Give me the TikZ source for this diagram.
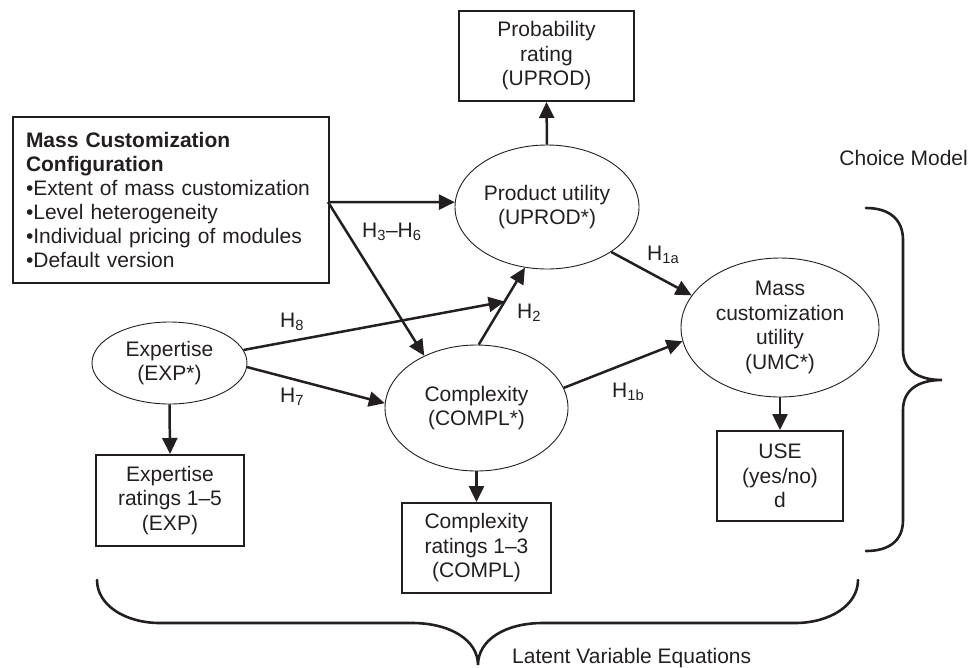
\documentclass[tikz,border=0pt]{standalone}
\usepackage{fontspec}
\setmainfont{Liberation Sans}
\usetikzlibrary{shapes.geometric,arrows.meta,positioning}
\definecolor{ink}{RGB}{35,31,32}
\tikzset{
	latent/.style={draw=ink,ellipse,line width=0.9pt,inner sep=0pt,align=center},
	observed/.style={draw=ink,rectangle,line width=2pt,inner sep=0pt,align=center},
	effect/.style={draw=ink,line width=2.5pt,-{Triangle[length=16pt,width=15pt]}},
	hyp/.style={anchor=base west,inner sep=0pt},
	brace/.style={draw=ink,line width=2.6pt,line cap=round}
}
\begin{document}
\begin{tikzpicture}[x=1pt,y=-1pt,text=ink,font=\fontsize{21}{24.5}\selectfont]
	\useasboundingbox (0,0) rectangle (971,667);
	\node[observed,anchor=north west,minimum width=316,minimum height=166,text width=290,inner xsep=13,align=left,font=\fontsize{21}{24}\selectfont] (mcbox) at (12,116)
		{\textbf{Mass Customization}\\\textbf{Configuration}\\•Extent of mass customization\\•Level heterogeneity\\•Individual pricing of modules\\•Default version};
	\node[observed,minimum width=175,minimum height=90] (prob) at (546.5,56) {Probability\\rating\\(UPROD)};
	\node[latent,minimum width=184,minimum height=124] (uprod) at (547,207) {Product utility\\(UPROD*)};
	\node[latent,minimum width=198,minimum height=139] (umc) at (780,327.5) {Mass\\customization\\utility\\(UMC*)};
	\node[observed,minimum width=126,minimum height=90] (use) at (780,476) {USE\\(yes/no)\\d};
	\node[latent,minimum width=155,minimum height=82] (exp) at (169.5,363) {Expertise\\(EXP*)};
	\node[observed,minimum width=148,minimum height=91] (expr) at (170,500.5) {Expertise\\ratings 1–5\\(EXP)};
	\node[latent,minimum width=183,minimum height=126] (compl) at (476.5,408) {Complexity\\(COMPL*)};
	\node[observed,minimum width=149,minimum height=90] (complr) at (476.5,548) {Complexity\\ratings 1–3\\(COMPL)};
	\coordinate (split) at (328,202);

	\draw[effect] (uprod.north) -- (prob.south);
	\draw[effect] (umc.south) -- (use.north);
	\draw[effect] (exp.south) -- (expr.north);
	\draw[effect] (compl.south) -- (complr.north);
	\draw[effect] (split) -- (uprod.177);
	\draw[effect] (split) -- (compl.135);
	\draw[effect] (compl.88) -- coordinate[pos=0.56] (mod) (uprod.250);
	\draw[effect] (exp.10) -- (mod);
	\draw[effect] (exp.-3) -- (compl.177);
	\draw[effect] (uprod.-35) -- (umc.160);
	\draw[effect] (compl.13) -- (umc.188);

	\node[hyp] (l36) at (362,237) {H\textsubscript{3}–H\textsubscript{6}};
	\node[hyp] (l8) at (280,327) {H\textsubscript{8}};
	\node[hyp] (l7) at (280,402) {H\textsubscript{7}};
	\node[hyp] (l2) at (517,318) {H\textsubscript{2}};
	\node[hyp] (l1a) at (647,260) {H\textsubscript{1a}};
	\node[hyp] (l1b) at (612,397) {H\textsubscript{1b}};

	\draw[brace] (866,208) .. controls (890,208) and (903,220) .. (903,240) -- (903,350)
		.. controls (903,370) and (918,380) .. (942,380)
		.. controls (918,380) and (903,390) .. (903,410) -- (903,520)
		.. controls (903,540) and (890,551) .. (866,551);
	\draw[brace] (97,580) .. controls (97,605) and (125,623) .. (160,623) -- (412,623)
		.. controls (450,623) and (478,640) .. (478,665)
		.. controls (478,640) and (505,623) .. (543,623) -- (795,623)
		.. controls (830,623) and (858,605) .. (858,580);
	\node[anchor=base east,inner sep=0pt] (choice) at (968,165) {Choice Model};
	\node[anchor=base west,inner sep=0pt] (latent) at (512,663) {Latent Variable Equations};
\end{tikzpicture}
\end{document}
